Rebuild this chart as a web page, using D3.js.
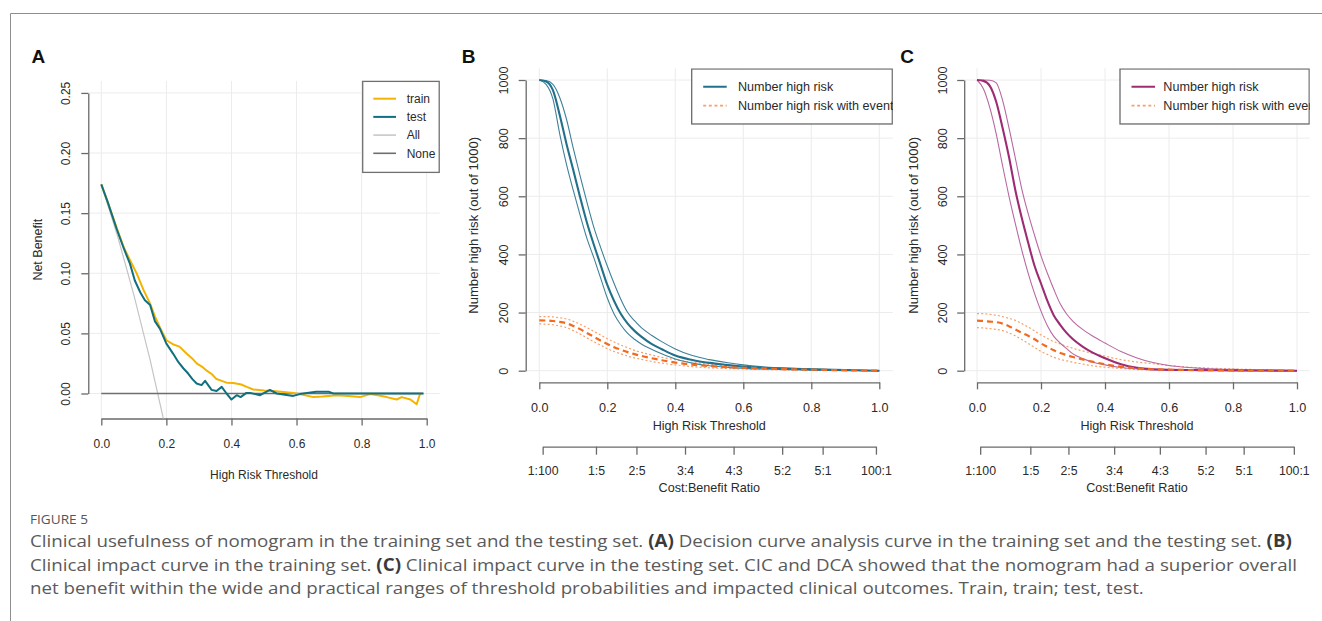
<!DOCTYPE html>
<html>
<head>
<meta charset="utf-8">
<script src="https://cdn.jsdelivr.net/npm/d3@7"></script>
<style>
  html, body { margin: 0; padding: 0; background: #fff; }
  svg { display: block; }
</style>
</head>
<body>
<svg id="fig" width="1322" height="621"></svg>
<script>
// ---------------- Panel A: decision curves ----------------
const dcaTrainThreshold = [0, 0.02, 0.047, 0.07, 0.088, 0.109, 0.13, 0.15, 0.165, 0.18, 0.2, 0.22, 0.24, 0.262, 0.28, 0.293, 0.31, 0.324, 0.34, 0.354, 0.37, 0.385, 0.406, 0.43, 0.447, 0.467, 0.5, 0.529, 0.56, 0.59, 0.62, 0.652, 0.68, 0.723, 0.76, 0.795, 0.826, 0.85, 0.877, 0.908, 0.923, 0.95, 0.969, 0.98];
const dcaTrainNetBenefit = [0.174, 0.159, 0.138, 0.121, 0.111, 0.0997, 0.086, 0.0748, 0.064, 0.055, 0.0443, 0.041, 0.039, 0.0333, 0.029, 0.025, 0.0222, 0.019, 0.016, 0.012, 0.0105, 0.009, 0.0088, 0.0075, 0.0055, 0.0033, 0.0025, 0.002, 0.0012, 0.0005, -0.001, -0.003, -0.0025, -0.0014, -0.002, -0.003, -0.0005, -0.0015, -0.003, -0.005, -0.003, -0.005, -0.009, 0];
const dcaTestThreshold = [0, 0.02, 0.047, 0.07, 0.088, 0.103, 0.12, 0.134, 0.15, 0.165, 0.18, 0.2, 0.221, 0.237, 0.252, 0.267, 0.28, 0.293, 0.308, 0.319, 0.339, 0.354, 0.37, 0.385, 0.4, 0.416, 0.428, 0.446, 0.457, 0.488, 0.518, 0.539, 0.59, 0.61, 0.66, 0.7, 0.713, 0.99];
const dcaTestNetBenefit = [0.174, 0.159, 0.137, 0.12, 0.108, 0.094, 0.084, 0.0775, 0.0736, 0.06, 0.054, 0.0415, 0.033, 0.026, 0.021, 0.0166, 0.012, 0.0083, 0.007, 0.0105, 0.003, 0.002, 0.0055, 0, -0.005, -0.0014, -0.003, 0.0005, 0.0005, -0.0014, 0.003, 0, -0.002, -0.0005, 0.0014, 0.0014, 0, 0];
const dcaAllThreshold = [0, 0.05, 0.10, 0.15, 0.20];
const dcaAllNetBenefit = [0.174, 0.131, 0.082, 0.028, -0.032];
const dcaNoneThreshold = [0, 0.99];
const dcaNoneNetBenefit = [0, 0];
const dcaLegend = ["train", "test", "All", "None"];
const dcaXTicks = [0, 0.2, 0.4, 0.6, 0.8, 1.0];
const dcaYTicks = [0, 0.05, 0.10, 0.15, 0.20, 0.25];

// ---------------- Panels B & C: clinical impact curves ----------------
const cicThreshold = [0, 0.02, 0.04, 0.06, 0.08, 0.10, 0.12, 0.14, 0.16, 0.18, 0.20, 0.22, 0.24, 0.26, 0.28, 0.30, 0.33, 0.36, 0.40, 0.45, 0.50, 0.55, 0.60, 0.65, 0.70, 0.80, 0.90, 1.00];

const trainHighRisk    = [1000, 995, 965, 880, 780, 690, 597, 510, 435, 365, 295, 240, 195, 162, 137, 117, 92, 74, 52, 37, 27, 20, 14, 10.5, 8, 4.5, 2, 0];
const trainHighRiskHi  = [1000, 998, 985, 940, 865, 765, 670, 580, 495, 425, 360, 300, 245, 200, 172, 148, 122, 100, 75, 52, 38, 28, 20, 14, 10, 5.5, 2.5, 0];
const trainHighRiskLo  = [1000, 985, 935, 815, 710, 620, 535, 455, 390, 320, 250, 195, 157, 128, 108, 92, 74, 58, 40, 26, 17, 12, 8, 6, 4.5, 2.5, 1, 0];
const trainEvent       = [173, 172.5, 171, 168, 163, 154, 143, 130, 117, 104, 92, 81, 72, 64, 57, 51, 43, 36, 28, 21, 16, 12.5, 10, 8, 6, 3.5, 1.5, 0];
const trainEventHi     = [186, 186, 185, 182, 178, 170, 160, 148, 136, 123, 110, 99, 88, 79, 70, 63, 54, 46, 38, 29, 22, 17, 13, 10, 8, 5, 2.5, 0];
const trainEventLo     = [161, 160, 158, 154, 148, 138, 126, 113, 100, 88, 76, 66, 58, 50, 44, 39, 32, 26, 20, 14, 10, 7.5, 6, 4.5, 3.5, 2, 1, 0];

const testHighRisk     = [1000, 997, 980, 925, 835, 735, 620, 525, 440, 360, 300, 240, 190, 158, 130, 108, 83, 63, 43, 22, 10, 5, 3, 2.5, 2, 1, 0.5, 0];
const testHighRiskHi   = [1000, 1000, 999, 990, 930, 835, 730, 625, 540, 465, 395, 335, 280, 230, 195, 170, 142, 120, 95, 66, 44, 28, 18, 12, 8, 4.5, 2, 0];
const testHighRiskLo   = [1000, 970, 905, 815, 705, 600, 505, 415, 335, 265, 205, 155, 118, 95, 76, 58, 42, 30, 20, 11, 6, 3, 2, 1.5, 1, 0.5, 0.2, 0];
const testEvent        = [172, 171, 169, 167, 162, 153, 142, 130, 120, 108, 94, 82, 70, 61, 54, 47, 39, 31, 22, 14, 8, 5, 3.5, 2.5, 2, 1, 0.5, 0];
const testEventHi      = [196, 196, 194, 191, 186, 180, 173, 162, 150, 137, 123, 111, 100, 92, 84, 77, 68, 60, 50, 38, 30, 24, 18, 13, 10, 6, 3, 0];
const testEventLo      = [148, 147, 145, 142, 138, 130, 120, 107, 94, 80, 66, 56, 46, 39, 34, 29, 23, 17, 12, 8, 4, 2.5, 2, 1.5, 1, 0.5, 0.2, 0];

const cicLegend = ["Number high risk", "Number high risk with event"];
const cicXTicks = [0, 0.2, 0.4, 0.6, 0.8, 1.0];
const cicYTicks = [0, 200, 400, 600, 800, 1000];
const costBenefitLabels = ["1:100", "1:5", "2:5", "3:4", "4:3", "5:2", "5:1", "100:1"];

// ---------------- drawing ----------------
const FONT = "'Liberation Sans', Arial, Helvetica, sans-serif";
const AXIS_COL = "#6a6a6a";
const GRID_COL = "#ececec";
const svg = d3.select("#fig");

// page frame (top and left rules)
svg.append("path")
  .attr("d", "M10.5,621 V13.5 H1322")
  .attr("fill", "none").attr("stroke", "#8e8e8e").attr("stroke-width", 1);

function zip(xs, ys) { return xs.map((t, i) => [t, ys[i]]); }

function styleAxis(sel, size) {
  sel.select(".domain").attr("stroke", AXIS_COL).attr("stroke-width", 1.3);
  sel.selectAll(".tick line").attr("stroke", AXIS_COL).attr("stroke-width", 1.3);
  sel.selectAll(".tick text").attr("fill", "#2a2a2a").style("font-family", FONT).style("font-size", size + "px");
}

// y axis whose line spans the tick values only, labels parallel to the axis
function drawYAxis(g, left, scale, ticks, fmt, size) {
  const ya = g.append("g").attr("transform", `translate(${left},0)`)
    .call(d3.axisLeft(scale).tickValues(ticks).tickSize(7).tickSizeOuter(0).tickFormat(fmt));
  styleAxis(ya, size);
  ya.selectAll(".tick text")
    .attr("x", null).attr("dy", "0.35em").attr("text-anchor", "middle")
    .attr("transform", "translate(-22,0) rotate(-90)");
}

function makePanel(id, x, y, xTicks, yTicks, yFmt, size) {
  const [x0, x1] = x.domain();
  const [y0, y1] = y.domain();
  const ex = (x1 - x0) * 0.04, ey = (y1 - y0) * 0.04;
  const left = x(x0 - ex), right = x(x1 + ex);
  const bottom = y(y0 - ey), top = y(y1 + ey);
  const g = svg.append("g").attr("id", id);

  // grid
  g.append("g").selectAll("line").data(xTicks).join("line")
    .attr("x1", d => x(d)).attr("x2", d => x(d)).attr("y1", top).attr("y2", bottom)
    .attr("stroke", GRID_COL).attr("stroke-width", 1);
  g.append("g").selectAll("line").data(yTicks).join("line")
    .attr("x1", left).attr("x2", right).attr("y1", d => y(d)).attr("y2", d => y(d))
    .attr("stroke", GRID_COL).attr("stroke-width", 1);

  const yTickScale = d3.scaleLinear()
    .domain([yTicks[0], yTicks[yTicks.length - 1]])
    .range([y(yTicks[0]), y(yTicks[yTicks.length - 1])]);
  drawYAxis(g, left, yTickScale, yTicks, yFmt, size);

  // x axis
  const xa = g.append("g").attr("transform", `translate(0,${bottom})`)
    .call(d3.axisBottom(x).tickValues(xTicks).tickSize(7).tickSizeOuter(0).tickFormat(d3.format(".1f")));
  styleAxis(xa, size);
  xa.selectAll(".tick text").attr("y", 25).attr("dy", "0.35em");

  const clipId = id + "-clip";
  svg.append("clipPath").attr("id", clipId).append("rect")
    .attr("x", left).attr("y", top).attr("width", right - left).attr("height", bottom - top);
  const plot = g.append("g").attr("clip-path", `url(#${clipId})`);

  return { g, plot, left, right, top, bottom, clipId };
}

function addText(g, str, x, y, opts = {}) {
  const t = g.append("text").attr("x", x).attr("y", y)
    .attr("text-anchor", opts.anchor || "middle")
    .attr("dy", opts.dy === undefined ? "0.35em" : opts.dy)
    .style("font-family", opts.font || FONT)
    .style("font-size", (opts.size || 12) + "px")
    .style("font-weight", opts.weight || "normal")
    .attr("fill", opts.fill || "#2a2a2a")
    .text(str);
  if (opts.rotate) t.attr("transform", `rotate(-90,${x},${y})`);
  return t;
}

// ---- Panel A ----
(function () {
  const x = d3.scaleLinear().domain([0, 1]).range([101.3, 426.7]);
  const y = d3.scaleLinear().domain([-0.0104, 0.2496]).range([406, 93.4]);
  const p = makePanel("panelA", x, y, dcaXTicks, dcaYTicks, d3.format(".2f"), 12);

  const line = d3.line().x(d => x(d[0])).y(d => y(d[1]));
  p.plot.append("path").datum(zip(dcaAllThreshold, dcaAllNetBenefit)).attr("d", line)
    .attr("fill", "none").attr("stroke", "#c4c4c4").attr("stroke-width", 1.2);
  p.plot.append("path").datum(zip(dcaNoneThreshold, dcaNoneNetBenefit)).attr("d", line)
    .attr("fill", "none").attr("stroke", "#6e6e6e").attr("stroke-width", 1.6);
  p.plot.append("path").datum(zip(dcaTrainThreshold, dcaTrainNetBenefit)).attr("d", line)
    .attr("fill", "none").attr("stroke", "#f5b301").attr("stroke-width", 2).attr("stroke-linejoin", "round");
  p.plot.append("path").datum(zip(dcaTestThreshold, dcaTestNetBenefit)).attr("d", line)
    .attr("fill", "none").attr("stroke", "#11707f").attr("stroke-width", 2).attr("stroke-linejoin", "round");

  addText(p.g, "High Risk Threshold", (x(0) + x(1)) / 2, 475);
  addText(p.g, "Net Benefit", 37.5, (p.top + p.bottom) / 2, { rotate: true, size: 12.5 });
  addText(p.g, "A", 31.5, 63.3, { anchor: "start", dy: 0, size: 19, weight: "bold", fill: "#111" });

  // legend
  const colors = ["#f5b301", "#11707f", "#c8c8c8", "#6e6e6e"];
  const lg = p.g.append("g");
  lg.append("rect").attr("x", 362.7).attr("y", p.top + 0.5).attr("width", p.right - 362.7 - 0.5).attr("height", 91)
    .attr("fill", "#fff").attr("stroke", "#707070").attr("stroke-width", 1.3);
  dcaLegend.forEach((name, i) => {
    const yy = 98.7 + i * 18.2;
    lg.append("line").attr("x1", 373.3).attr("x2", 396).attr("y1", yy).attr("y2", yy)
      .attr("stroke", colors[i]).attr("stroke-width", i < 2 ? 2 : 1.6);
    addText(lg, name, 406.7, yy, { anchor: "start" });
  });
})();

// ---- Panels B & C ----
function cicPanel(id, letter, xRange, labelX, hiColor, ciColor, series, legendLeft, legendText) {
  const FS = 12.6;
  const x = d3.scaleLinear().domain([0, 1]).range(xRange);
  const y = d3.scaleLinear().domain([0, 1000]).range([370.7, 80]);
  const p = makePanel(id, x, y, cicXTicks, cicYTicks, d3.format("d"), FS);
  const line = d3.line().x(d => x(d[0])).y(d => y(d[1])).curve(d3.curveMonotoneX);

  const orange = "#f26a1f", orangeLight = "#f7a06a";
  const draw = (vals, color, w, dash) => {
    const path = p.plot.append("path").datum(zip(cicThreshold, vals)).attr("d", line)
      .attr("fill", "none").attr("stroke", color).attr("stroke-width", w);
    if (dash) path.attr("stroke-dasharray", dash);
  };
  draw(series.eventHi, orangeLight, 1.2, "2,2.2");
  draw(series.eventLo, orangeLight, 1.2, "2,2.2");
  draw(series.hiHi, ciColor, 1.1);
  draw(series.hiLo, ciColor, 1.1);
  draw(series.hi, hiColor, 2.1);
  draw(series.event, orange, 2.2, "6,4");

  // cost:benefit axis
  const cbThreshold = costBenefitLabels.map(s => { const [c, b] = s.split(":").map(Number); return c / (c + b); });
  const cb = d3.scaleLinear().domain([cbThreshold[0], cbThreshold[cbThreshold.length - 1]])
    .range([x(cbThreshold[0]), x(cbThreshold[cbThreshold.length - 1])]);
  const cba = p.g.append("g").attr("transform", "translate(0,446.7)")
    .call(d3.axisBottom(cb).tickValues(cbThreshold).tickSize(8).tickSizeOuter(0)
      .tickFormat((d, i) => costBenefitLabels[i]));
  styleAxis(cba, 12.3);
  cba.selectAll(".tick text").attr("y", 24.5).attr("dy", "0.35em");

  const cx = (x(0) + x(1)) / 2;
  addText(p.g, "High Risk Threshold", cx, 426, { size: FS });
  addText(p.g, "Cost:Benefit Ratio", cx, 488, { size: FS });
  addText(p.g, "Number high risk (out of 1000)", labelX, (p.top + p.bottom) / 2, { rotate: true, size: 13.1 });
  addText(p.g, letter, p.left - 64, 63.3, { anchor: "start", dy: 0, size: 19, weight: "bold", fill: "#111" });

  // legend, clipped by the plotting region
  const lg = p.g.append("g").attr("clip-path", `url(#${p.clipId})`);
  lg.append("rect").attr("x", legendLeft).attr("y", p.top + 0.6).attr("width", p.right - legendLeft - 0.6).attr("height", 55)
    .attr("fill", "#fff").attr("stroke", "#6a6a6a").attr("stroke-width", 1.3);
  const y1 = 86.7, y2 = 105.7;
  lg.append("line").attr("x1", legendLeft + 11.5).attr("x2", legendLeft + 35).attr("y1", y1).attr("y2", y1)
    .attr("stroke", hiColor).attr("stroke-width", 2.1);
  lg.append("line").attr("x1", legendLeft + 11.5).attr("x2", legendLeft + 35).attr("y1", y2).attr("y2", y2)
    .attr("stroke", orangeLight).attr("stroke-width", 1.8).attr("stroke-dasharray", "3,2.6");
  addText(lg, cicLegend[0], legendLeft + legendText, y1, { anchor: "start", size: FS });
  addText(lg, cicLegend[1], legendLeft + legendText, y2, { anchor: "start", size: FS });
}

cicPanel("panelB", "B", [539.3, 879.3], 473.3, "#23708a", "#3e8199",
  { hi: trainHighRisk, hiHi: trainHighRiskHi, hiLo: trainHighRiskLo, event: trainEvent, eventHi: trainEventHi, eventLo: trainEventLo },
  691.7, 46.3);
cicPanel("panelC", "C", [977, 1297], 913.3, "#9d2c72", "#b968a2",
  { hi: testHighRisk, hiHi: testHighRiskHi, hiLo: testHighRiskLo, event: testEvent, eventHi: testEventHi, eventLo: testEventLo },
  1120, 43.3);

// ---------------- caption ----------------
const captionLines = [
  [["Clinical usefulness of nomogram in the training set and the testing set. ", false], ["(A)", true], [" Decision curve analysis curve in the training set and the testing set. ", false], ["(B)", true]],
  [["Clinical impact curve in the training set. ", false], ["(C)", true], [" Clinical impact curve in the testing set. CIC and DCA showed that the nomogram had a superior overall", false]],
  [["net benefit within the wide and practical ranges of threshold probabilities and impacted clinical outcomes. Train, train; test, test.", false]]
];
const CAP_FONT = "'Open Sans', 'Noto Sans', sans-serif";
svg.append("text").attr("x", 30).attr("y", 524)
  .style("font-family", CAP_FONT).style("font-size", "13px").attr("fill", "#555")
  .attr("textLength", 58).attr("lengthAdjust", "spacingAndGlyphs").text("FIGURE 5");

const cap = svg.append("g");
const capText = captionLines.map((parts, i) => {
  const t = cap.append("text").attr("x", 0).attr("y", 547 + i * 23.7)
    .style("font-family", CAP_FONT).style("font-size", "17px").attr("fill", "#5a5a5a");
  parts.forEach(([s, b]) => {
    const ts = t.append("tspan").text(s);
    if (b) ts.style("font-weight", "bold").attr("fill", "#3a3a3a");
  });
  return t;
});
const w0 = capText[0].node().getComputedTextLength();
const k = (1293 - 30) / w0;
cap.attr("transform", `translate(30,0) scale(${k},1)`);
</script>
</body>
</html>
